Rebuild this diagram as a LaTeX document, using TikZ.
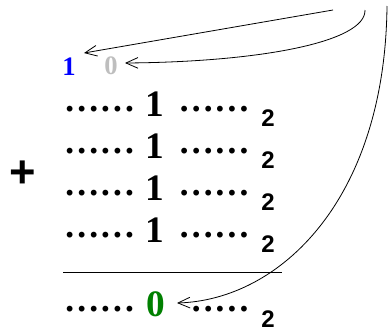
\documentclass[tikz,border=0pt]{standalone}
\usepackage{fontspec}
\setmainfont{Liberation Serif}
\newfontfamily\sansfont{Liberation Sans}
\usetikzlibrary{arrows.meta}
\definecolor{carryblue}{RGB}{0,0,255}
\definecolor{carrygray}{RGB}{190,190,190}
\definecolor{sumgreen}{RGB}{0,128,0}
\begin{document}
\begin{tikzpicture}[x=0.75pt,y=-0.75pt,
  txt/.style={inner sep=0pt,outer sep=0pt},
  bigdigit/.style={txt,anchor=south,font=\fontsize{28}{28}\selectfont\bfseries},
  dots/.style={txt,anchor=south,font=\fontsize{26.8}{26.8}\selectfont\bfseries},
  carry/.style={txt,anchor=south,font=\fontsize{20}{20}\selectfont\bfseries},
  base/.style={txt,anchor=south,font=\fontsize{18}{18}\sansfont\bfseries},
  conn/.style={line width=0.6pt,-{Straight Barb[length=9pt,width=8pt]}}]
\useasboundingbox (0,0) rectangle (388,329);

% carries
\node[carry,text=carryblue] (c1) at (69,75) {1};
\node[carry,text=carrygray] (c0) at (111,75) {0};

% plus sign
\node[txt,font=\fontsize{34}{34}\sansfont\bfseries] (plus) at (23,174) {+};

% the four addends
\foreach \i/\b in {1/116,2/158,3/200,4/242}{
  \node[dots] (l\i) at (99.5,\b-4) {……};
  \node[bigdigit] (d\i) at (155,\b) {1};
  \node[dots] (r\i) at (214,\b-4) {……};
  \node[base] (s\i) at (268,\b+10) {2};
}

% rule under the addends
\coordinate (ruleL) at (63,272);
\coordinate (ruleR) at (282,272);
\draw[line width=0.6pt] (ruleL) -- (ruleR);

% result row
\node[dots] (l5) at (99.5,312) {……};
\node[bigdigit,text=sumgreen] (d5) at (155.5,317) {0};
\begin{scope}
  \clip (188,280) rectangle (260,320);
  \node[dots] (r5) at (214,312) {……};
\end{scope}
\node[base] (s5) at (268,327) {2};

% carry arrows
\coordinate (a1) at (333,10);
\coordinate (a2) at (365,10);
\coordinate (a3) at (387,6);
\draw[conn] (a1) -- (84,53);
\draw[conn] (a2) .. controls (366,42) and (260,62) .. (125,63);
\draw[conn] (a3) .. controls (385,200) and (280,300) .. (177,303);
\end{tikzpicture}
\end{document}
